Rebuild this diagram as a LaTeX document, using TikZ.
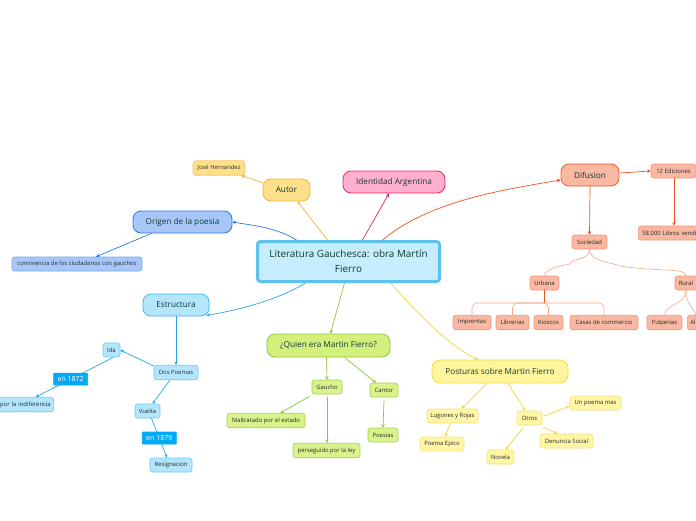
\documentclass[tikz,border=0pt]{standalone}
\usepackage{fontspec}
\setmainfont{Open Sans}
\usetikzlibrary{arrows.meta,calc}
\definecolor{ttxt}{HTML}{123A30}
\definecolor{stxt}{HTML}{2A2A2A}
\definecolor{cfill}{HTML}{C7EDFC}
\definecolor{cbord}{HTML}{5BC2EE}
\definecolor{yfill}{HTML}{FFE08A}\definecolor{ybord}{HTML}{F6B73C}\definecolor{yline}{HTML}{F9B233}
\definecolor{pfill}{HTML}{FFB0CF}\definecolor{pbord}{HTML}{E8256A}
\definecolor{bfill}{HTML}{A6C7F7}\definecolor{bbord}{HTML}{2B78E4}\definecolor{bsub}{HTML}{79A8EE}
\definecolor{lfill}{HTML}{B3E5FC}\definecolor{lbord}{HTML}{3CB9F2}\definecolor{lsub}{HTML}{6CCBF5}\definecolor{lline}{HTML}{29A8E0}\definecolor{lstrong}{HTML}{03A9F4}
\definecolor{gfill}{HTML}{D4F07C}\definecolor{gbord}{HTML}{8DC63F}\definecolor{gsfill}{HTML}{DAF28C}\definecolor{gsub}{HTML}{A5D050}
\definecolor{ofill}{HTML}{FFF59D}\definecolor{obord}{HTML}{F2DB4B}\definecolor{osfill}{HTML}{FFF6A6}\definecolor{osub}{HTML}{F5E27A}\definecolor{oline}{HTML}{F0D832}
\definecolor{rfill}{HTML}{F8B8A2}\definecolor{rbord}{HTML}{F2592A}\definecolor{rsub}{HTML}{F2967A}\definecolor{rline}{HTML}{F4511E}\definecolor{rlight}{HTML}{F7A58A}
\begin{document}
\begin{tikzpicture}[x=1pt,y=-1pt,
  topic/.style={draw, rounded corners=8pt, line width=0.8pt, minimum height=22pt, inner sep=0pt, font=\fontsize{8.2}{10}\selectfont, text=ttxt},
  sub/.style={draw, rounded corners=2.5pt, line width=0.6pt, minimum height=14.5pt, inner sep=0pt, font=\fontsize{5.9}{7}\selectfont, text=stxt},
  lbl/.style={fill=lstrong, draw=lstrong, inner sep=0pt, minimum width=34pt, minimum height=12pt, rounded corners=0.5pt, font=\fontsize{7}{8}\selectfont, text=white},
  arr/.style={-{Stealth[length=3.5pt,width=3.5pt]}, line width=0.7pt},
  plain/.style={line width=0.6pt}]
\useasboundingbox (0,0) rectangle (696,520);
\fill[white] (0,0) rectangle (696,520);

% central
\node[draw=cbord, fill=cfill, line width=3pt, rounded corners=3pt, minimum width=182pt, minimum height=40pt, inner sep=0pt, align=center, font=\fontsize{9.9}{15}\selectfont, text=ttxt] (c) at (348.5,261.5) {Literatura Gauchesca: obra Martín\\Fierro};

% Autor
\node[topic, fill=yfill, draw=ybord, minimum width=47pt] (autor) at (286.5,190) {Autor};
\node[sub, fill=yfill, draw=ybord!80, minimum width=52pt] (jose) at (219,168) {José Hernandez};

% Identidad
\node[topic, fill=pfill, draw=pbord, minimum width=102pt] (ident) at (394,182) {Identidad Argentina};

% Origen
\node[topic, fill=bfill, draw=bbord, minimum width=99pt] (origen) at (182.5,222) {Origen de la poesia};
\node[sub, fill=bfill, draw=bsub, minimum width=130pt, minimum height=14pt] (conv) at (77,264) {convivencia de los ciudadanos con gauchos};

% Estructura
\node[topic, fill=lfill, draw=lbord, minimum width=66pt] (estr) at (176,305) {Estructura};
\node[sub, fill=lfill, draw=lsub, minimum width=44pt] (dos) at (176,372.5) {Dos Poemas};
\node[sub, fill=lfill, draw=lsub, minimum width=17pt, minimum height=14pt] (ida) at (111.5,350) {Ida};
\node[sub, fill=lfill, draw=lsub, anchor=east, text width=66pt, align=right, inner xsep=3pt] (indif) at (54,404.5) {por la indiferencia};
\node[sub, fill=lfill, draw=lsub, minimum width=25pt, minimum height=14pt] (vuelta) at (147.5,411) {Vuelta};
\node[sub, fill=lfill, draw=lsub, minimum width=42pt, minimum height=14pt] (resig) at (171,465) {Resignacion};

% Quien
\node[topic, fill=gfill, draw=gbord, minimum width=123pt, minimum height=23pt] (quien) at (328.5,345.5) {¿Quien era Martin Fierro?};
\node[sub, fill=gsfill, draw=gsub, minimum width=30pt, minimum height=14pt] (gaucho) at (327,387) {Gaucho};
\node[sub, fill=gsfill, draw=gsub, minimum width=28pt, minimum height=14pt] (cantor) at (384,390) {Cantor};
\node[sub, fill=gsfill, draw=gsub, minimum width=78pt] (maltr) at (266,420.5) {Maltratado por el estado};
\node[sub, fill=gsfill, draw=gsub, minimum width=67pt] (pers) at (326.5,450.5) {perseguido por la ley};
\node[sub, fill=gsfill, draw=gsub, minimum width=30pt, minimum height=14pt] (poes) at (383,435) {Poesias};

% Posturas
\node[topic, fill=ofill, draw=obord, minimum width=136pt, minimum height=23pt] (post) at (500,371.5) {Posturas sobre Martin Fierro};
\node[sub, fill=osfill, draw=osub, minimum width=51pt, minimum height=14pt] (lug) at (452.5,416) {Lugones y Rojas};
\node[sub, fill=osfill, draw=osub, minimum width=44pt, minimum height=14pt] (epico) at (442,444) {Poema Epico};
\node[sub, fill=osfill, draw=osub, minimum width=25pt, minimum height=14pt] (otros) at (529.5,418) {Otros};
\node[sub, fill=osfill, draw=osub, minimum width=51pt, minimum height=14pt] (unp) at (595.5,403) {Un poema mas};
\node[sub, fill=osfill, draw=osub, minimum width=53pt, minimum height=14pt] (den) at (566.5,441) {Denuncia Social};
\node[sub, fill=osfill, draw=osub, minimum width=27pt, minimum height=14pt] (nov) at (500.5,457) {Novela};

% Difusion
\node[topic, fill=rfill, draw=rbord, minimum width=58pt] (dif) at (590,175) {Difusion};
\node[sub, fill=rfill, draw=rsub, minimum width=45pt, minimum height=14pt] (ed) at (673.5,171) {12 Ediciones};
\node[sub, fill=rfill, draw=rsub, anchor=west, text width=64pt, align=left, inner xsep=4pt, minimum height=14pt] (lib) at (638,233) {58.000 Libros vendi};
\node[sub, fill=rfill, draw=rsub, minimum width=35pt, minimum height=14pt] (soc) at (589.5,242) {Sociedad};
\node[sub, fill=rfill, draw=rsub, minimum width=29pt, minimum height=14pt] (urb) at (544.5,283) {Urbana};
\node[sub, fill=rfill, draw=rsub, minimum width=22pt, minimum height=14pt] (rur) at (686,283) {Rural};
\node[sub, fill=rfill, draw=rsub, minimum width=38pt] (imp) at (472,322.5) {Imprentas};
\node[sub, fill=rfill, draw=rsub, minimum width=33pt] (libr) at (512.5,322.5) {Librerias};
\node[sub, fill=rfill, draw=rsub, minimum width=29pt] (kio) at (548.5,322.5) {Kioscos};
\node[sub, fill=rfill, draw=rsub, minimum width=68pt] (casas) at (604,322.5) {Casas de commercio};
\node[sub, fill=rfill, draw=rsub, minimum width=35pt] (pulp) at (664.5,322.5) {Pulperias};
\node[sub, fill=rfill, draw=rsub, anchor=west, text width=20pt, align=left, inner xsep=3pt] (al) at (687,322.5) {Al};

% main connectors
\draw[arr, bbord] ($(c.north)+(-52,0)$) .. controls +(-20,-12) and +(25,4) .. (origen.east);
\draw[arr, yline] ($(c.north)+(-21,0)$) -- ($(autor.south)+(11,0)$);
\draw[arr, pbord] ($(c.north)+(14,0)$) -- ($(ident.south)+(-5,0)$);
\draw[arr, rline] ($(c.north)+(34,0)$) .. controls +(45,-38) and +(-60,10) .. ($(dif.west)+(0,5)$);
\draw[arr, lline] ($(c.south)+(-43,0)$) .. controls +(-30,18) and +(30,-5) .. ($(estr.south east)+(-3,-1)$);
\draw[arr, gbord] ($(c.south)+(-4,0)$) -- ($(quien.north)+(2,0)$);
\draw[arr, oline] ($(c.south)+(42,0)$) .. controls +(25,28) and +(-30,-14) .. ($(post.north)+(-22,0)$);

% Autor / Origen subs
\draw[arr, yline] ($(autor.west)+(1,-7)$) -- ($(jose.south east)+(-4,0)$);
\draw[arr, bbord] ($(origen.south)+(-31,0)$) -- ($(conv.north)+(19,0)$);

% Estructura subs
\draw[arr, lline] (estr.south) -- (dos.north);
\draw[arr, lline] ($(dos.north west)+(0,1)$) -- (ida.east);
\draw[arr, lline] ($(ida.south)+(2,0)$) -- node[lbl, pos=0.55] (en72) {en 1872} ($(indif.north)+(18,0)$);
\draw[arr, lline] ($(dos.south)+(-6,0)$) -- ($(vuelta.north)+(5,0)$);
\draw[arr, lline] ($(vuelta.south)+(4,0)$) -- node[lbl, pos=0.5] (en79) {en 1879} ($(resig.north)+(-4,0)$);

% Quien subs
\draw[arr, gbord] ($(quien.south)+(-2,0)$) -- (gaucho.north);
\draw[arr, gbord] ($(quien.south)+(16,0)$) -- ($(cantor.north)+(-8,0)$);
\draw[arr, gbord] ($(gaucho.south west)+(-2,2)$) -- ($(maltr.north east)+(-25,0)$);
\draw[arr, gbord] ($(gaucho.south)+(0,3)$) -- ($(pers.north)+(0.5,0)$);
\draw[arr, gbord] ($(cantor.south)+(0,3)$) -- (poes.north);

% Posturas subs
\draw[arr, oline] ($(post.south)+(-13,0)$) -- ($(lug.north)+(9,0)$);
\draw[arr, oline] ($(post.south)+(8,0)$) -- ($(otros.north)+(-4,0)$);
\draw[arr, oline] ($(lug.south)+(-2,0)$) -- ($(epico.north)+(3,0)$);
\draw[arr, oline] ($(otros.east)+(2,-2)$) -- ($(unp.west)+(0,3)$);
\draw[arr, oline] ($(otros.south east)+(1,2)$) -- ($(den.north)+(-9,0)$);
\draw[arr, oline] ($(otros.south west)+(6,3)$) -- ($(nov.north)+(5,0)$);

% Difusion subs
\draw[arr, rline] ($(dif.east)+(1,-2)$) -- (ed.west);
\draw[arr, rline] ($(ed.south)+(0.5,0)$) -- ($(lib.north west)+(36,0)$);
\draw[arr, rline] (dif.south) -- (soc.north);
\draw[plain, rlight] (soc.south) .. controls +(0,12) and +(0,-6) .. (570,264) .. controls +(-12,2) and +(0,-6) .. (urb.north);
\draw[plain, rlight] (soc.south) .. controls +(0,12) and +(-10,-4) .. (620,266) .. controls +(40,6) and +(0,-8) .. (rur.north);
\draw[line width=0.9pt, rline] (urb.south) -- (544.5,303);
\draw[plain, rlight, rounded corners=5pt] (imp.north) -- (472,303) -- (604,303) -- (casas.north);
\draw[plain, rlight, rounded corners=5pt] (libr.north) -- (512.5,303) -- (530,303);
\draw[plain, rlight, rounded corners=5pt] (kio.north) -- (548.5,303) -- (530,303);
\draw[plain, rlight] (rur.south) .. controls +(0,14) and +(0,-10) .. (pulp.north);
\draw[plain, rlight] (rur.south) .. controls +(0,14) and +(-4,-10) .. ($(al.north west)+(9,0)$);
\end{tikzpicture}
\end{document}
